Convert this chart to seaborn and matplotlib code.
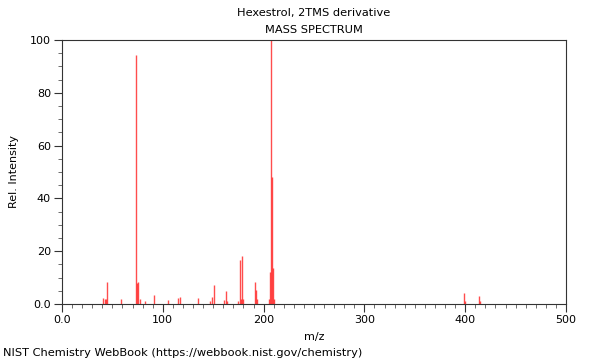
import matplotlib
matplotlib.use("Agg")
import matplotlib.pyplot as plt
import seaborn as sns
import pandas as pd
from matplotlib.ticker import MultipleLocator, FixedLocator

title = "Hexestrol, 2TMS derivative"
subtitle = "MASS SPECTRUM"
footer = "NIST Chemistry WebBook (https://webbook.nist.gov/chemistry)"

mz = [41, 43, 44, 45, 59, 73, 74, 75, 77, 82, 91, 105, 115, 117, 135,
      147, 149, 151, 161, 163, 164, 175, 177, 178, 179, 180, 191, 192, 193,
      205, 206, 207, 208, 209, 210, 399, 400, 414, 415]
intensity = [2.3, 1.8, 1.8, 8.5, 1.8, 94.5, 7.8, 8.2, 1.8, 1.0, 3.4, 1.6, 2.2, 2.8, 2.3,
             1.0, 2.6, 7.1, 1.5, 5.0, 1.0, 1.0, 16.8, 2.0, 18.0, 2.0, 8.5, 5.3, 2.0,
             2.0, 12.0, 100.0, 48.0, 13.5, 2.0, 4.0, 1.0, 3.0, 1.0]

xticks = [0, 100, 200, 300, 400, 500]
xticklabels = ["0.0", "100", "200", "300", "400", "500"]
yticks = [0, 20, 40, 60, 80, 100]
yticklabels = ["0.0", "20", "40", "60", "80", "100"]

df = pd.DataFrame({"mz": mz, "intensity": intensity})

sns.set_theme(style="ticks")
plt.rcParams["font.family"] = ["DejaVu Sans"]
plt.rcParams["text.color"] = "black"
plt.rcParams["axes.labelcolor"] = "black"

fig = plt.figure(figsize=(6, 3.6), dpi=100)
ax = fig.add_axes([62/600, 1-304/360, (566-62)/600, (304-40)/360])

ax.vlines(df["mz"], 0, df["intensity"], color="#ff2020", alpha=0.8, linewidth=1.0)

ax.set_xlim(0, 500)
ax.set_ylim(0, 100)
ax.xaxis.set_major_locator(FixedLocator(xticks))
ax.set_xticklabels(xticklabels)
ax.xaxis.set_minor_locator(MultipleLocator(10))
ax.yaxis.set_major_locator(FixedLocator(yticks))
ax.set_yticklabels(yticklabels)
ax.yaxis.set_minor_locator(MultipleLocator(5))
ax.tick_params(axis="both", which="major", length=6, width=0.8, labelsize=8, color="#333333", labelcolor="black", direction="out", pad=2)
ax.tick_params(axis="both", which="minor", length=3, width=0.6, color="#555555", direction="out")
for s in ax.spines.values():
    s.set_color("#333333")
    s.set_linewidth(0.8)
    s.set_visible(True)

ax.set_xlabel("m/z", fontsize=8, labelpad=5)
ax.set_ylabel("Rel. Intensity", fontsize=8, labelpad=8)

fig.text(0.5233, 1-13/360, title, ha="center", va="center", fontsize=8.2)
fig.text(0.5233, 1-30/360, subtitle, ha="center", va="center", fontsize=8.2)
fig.text(3/600, 1-353/360, footer, ha="left", va="center", fontsize=8.2)

fig.savefig("out.png", dpi=100)
